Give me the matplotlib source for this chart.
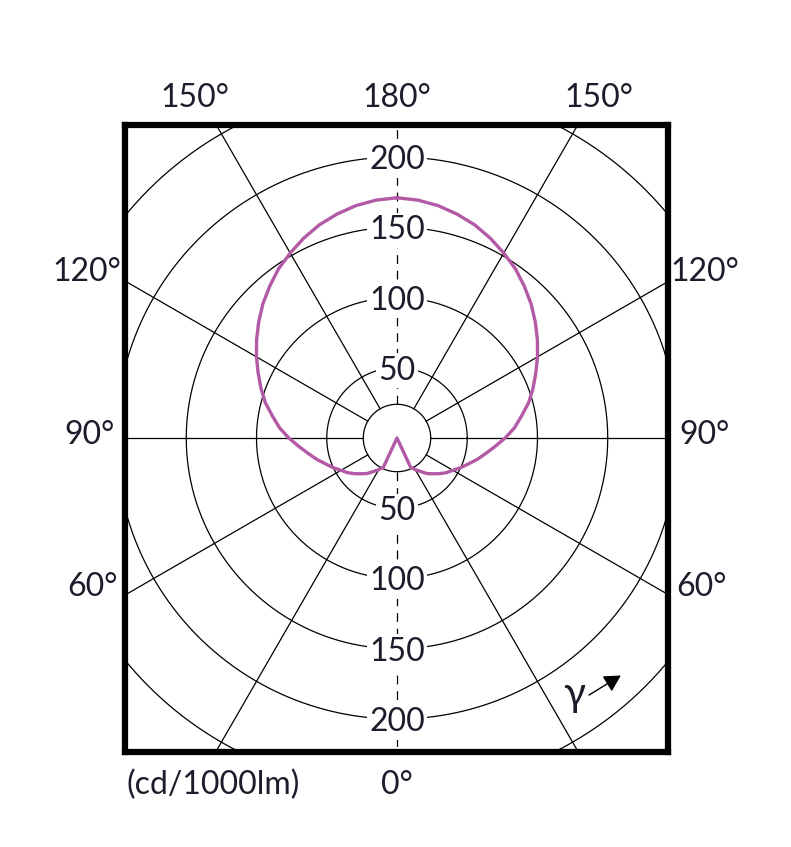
import numpy as np
import matplotlib
matplotlib.use("Agg")
import matplotlib.pyplot as plt

# Luminous intensity distribution (cd/1000lm), gamma measured from nadir
gamma_deg = [0, 25, 30, 35, 40, 45, 50, 55, 60, 65, 70, 75, 80, 85, 90, 95, 100,
             105, 110, 115, 120, 125, 130, 135, 140, 145, 150, 155, 160, 165, 170,
             175, 180]
intensity = [0, 23, 26, 29, 33, 36, 39.5, 43, 46, 50, 54, 59, 64, 70, 77, 84, 90,
             97, 103, 109, 115.5, 122, 128.5, 135, 141, 147, 152, 157, 161.5, 165,
             168, 170, 171]

ring_values = [50, 100, 150, 200]
extra_rings = [24, 250, 300]
spoke_angles = [30, 60, 90, 120, 150, 210, 240, 270, 300, 330]

angle_labels = [("150°", -144, 244), ("180°", 0, 244), ("150°", 144, 244),
                ("120°", -221, 120), ("120°", 219, 120),
                ("90°", -219, 4), ("90°", 219, 4),
                ("60°", -217, -104), ("60°", 217, -104),
                ("0°", 0, -245)]

text_color = "#1c1c2c"
curve_color = "#b35aa6"
font = ["Lato", "DejaVu Sans"]

fig = plt.figure(figsize=(7.91, 8.47), dpi=100)
ax = fig.add_axes([125 / 791, 95 / 847, 543 / 791, 627 / 847])
ax.set_xlim(-193.6, 192.9)
ax.set_ylim(-223.5, 222.8)
ax.set_aspect("equal")
ax.set_xticks([])
ax.set_yticks([])
for s in ax.spines.values():
    s.set_linewidth(4.5)
    s.set_color("black")

# circles
t = np.linspace(0, 2 * np.pi, 721)
for r in ring_values + extra_rings:
    ax.plot(r * np.cos(t), r * np.sin(t), color="black", lw=0.9, zorder=1)

# spokes (gamma 0 points down)
for a in spoke_angles:
    g = np.radians(a)
    ax.plot([24 * np.sin(g), 400 * np.sin(g)], [-24 * np.cos(g), -400 * np.cos(g)],
            color="black", lw=0.9, zorder=1)

# dashed vertical axis
for sgn in (1, -1):
    ax.plot([0, 0], [sgn * 24, sgn * 400], color="black", lw=0.9,
            dashes=(7, 5.5), zorder=1)

# curve, mirrored about the vertical axis
g = np.radians(np.array(gamma_deg, dtype=float))
I = np.array(intensity, dtype=float)
x_right = I * np.sin(g)
y_right = -I * np.cos(g)
xs = np.concatenate([-x_right[::-1], x_right[1:]])
ys = np.concatenate([y_right[::-1], y_right[1:]])
ax.plot(xs, ys, color=curve_color, lw=2.4, solid_joinstyle="round", zorder=3)

# ring labels above and below centre
for r in ring_values:
    for sgn in (1, -1):
        ax.text(0, sgn * r, str(r), ha="center", va="center_baseline", fontsize=23,
                family=font, color=text_color, zorder=5,
                bbox=dict(boxstyle="square,pad=0.08", fc="white", ec="none"))

# angle labels outside the box
for txt, x, y in angle_labels:
    ax.text(x, y, txt, ha="center", va="center_baseline", fontsize=23, family=font,
            color=text_color, clip_on=False)

ax.text(-131, -245, "(cd/1000lm)", ha="center", va="center_baseline", fontsize=23,
        family=font, color=text_color, clip_on=False)

# gamma direction marker
ax.text(126, -180, "γ", ha="center", va="center_baseline", fontsize=29,
        family=font, color=text_color)
ax.annotate("", xy=(161, -168), xytext=(135, -184),
            arrowprops=dict(arrowstyle="-|>,head_length=1.0,head_width=0.55",
                            color="black", lw=1.0))

fig.savefig("out.png", dpi=100)
